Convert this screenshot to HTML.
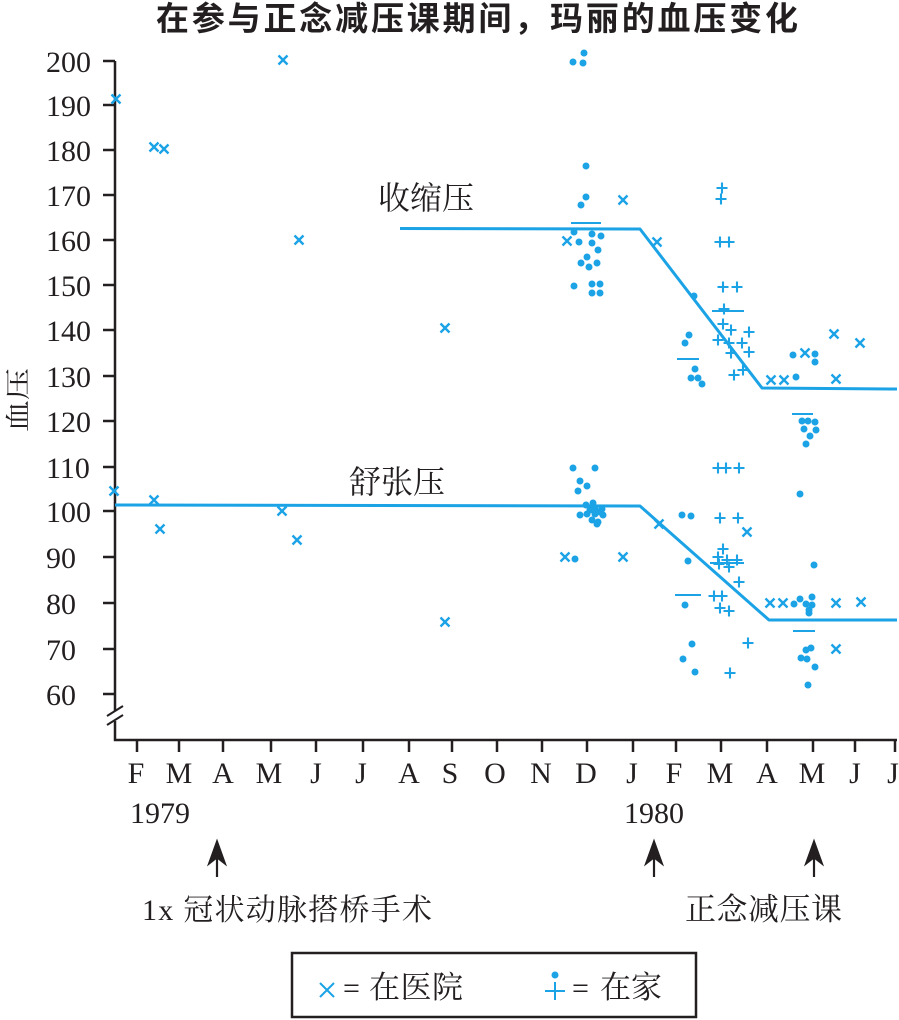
<!DOCTYPE html>
<html><head><meta charset="utf-8"><style>
html,body{margin:0;padding:0;background:#fff;}
svg{display:block;}
</style></head><body>
<svg width="899" height="1020" viewBox="0 0 899 1020" xmlns="http://www.w3.org/2000/svg">
<defs>
<g id="xm"><path d="M-4.5,-4.5L4.5,4.5M-4.5,4.5L4.5,-4.5" stroke="#1ba3e6" stroke-width="2.4" fill="none"/></g>
<g id="pm"><path d="M-5.5,0H5.5M0,-5.5V5.5" stroke="#1ba3e6" stroke-width="2.1" fill="none"/></g>
<g id="dm"><circle r="3.5" fill="#1ba3e6"/></g>
</defs>
<rect width="899" height="1020" fill="#fff"/>

<!-- title -->
<text x="156" y="30" font-family="'Noto Sans CJK SC','WenQuanYi Zen Hei',sans-serif" font-weight="bold" font-size="33" fill="#231f20" textLength="642" lengthAdjust="spacing">在参与正念减压课期间，玛丽的血压变化</text>

<!-- y axis label -->
<text transform="translate(27,400) rotate(-90) scale(1,0.8)" text-anchor="middle" font-family="'Liberation Serif','Noto Serif CJK SC',serif" font-size="32" fill="#231f20">血压</text>

<!-- axes -->
<g stroke="#231f20" stroke-width="2.5" fill="none">
<path d="M115,61V711M115,721V740H897"/>
<path d="M107,716L123,706M107,725L123,715" stroke-width="2"/>
<path d="M103,61H115M103,105H115M103,150H115M103,195H115M103,240H115M103,285H115M103,330H115M103,376H115M103,421H115M103,467H115M103,511H115M103,557H115M103,603H115M103,649H115M103,694H115"/>
<path d="M137,740V752M179,740V752M223,740V752M271,740V752M316,740V752M363,740V752M409,740V752M452,740V752M497,740V752M542,740V752M587,740V752M633,740V752M676,740V752M721,740V752M767,740V752M813,740V752M855,740V752M895,740V752"/>
</g>

<!-- y tick labels -->
<g font-family="'Liberation Serif',serif" font-size="30" fill="#231f20">
<text x="46" y="72">200</text>
<text x="46" y="116">190</text>
<text x="46" y="161">180</text>
<text x="46" y="206">170</text>
<text x="46" y="251">160</text>
<text x="46" y="296">150</text>
<text x="46" y="341">140</text>
<text x="46" y="387">130</text>
<text x="46" y="432">120</text>
<text x="46" y="478">110</text>
<text x="46" y="522">100</text>
<text x="46" y="568">90</text>
<text x="46" y="614">80</text>
<text x="46" y="660">70</text>
<text x="46" y="705">60</text>
</g>

<!-- month labels -->
<g font-family="'Liberation Serif',serif" font-size="30" fill="#231f20" text-anchor="middle">
<text x="136" y="783">F</text>
<text x="179" y="783">M</text>
<text x="223" y="783">A</text>
<text x="269" y="783">M</text>
<text x="316" y="783">J</text>
<text x="361" y="783">J</text>
<text x="409" y="783">A</text>
<text x="450" y="783">S</text>
<text x="495" y="783">O</text>
<text x="541" y="783">N</text>
<text x="586" y="783">D</text>
<text x="632" y="783">J</text>
<text x="674" y="783">F</text>
<text x="720" y="783">M</text>
<text x="767" y="783">A</text>
<text x="812" y="783">M</text>
<text x="855" y="783">J</text>
<text x="893" y="783">J</text>
<text x="160" y="823">1979</text>
<text x="654" y="823">1980</text>
</g>

<!-- arrows -->
<g fill="#231f20" stroke="#231f20">
<path d="M217,840L208,865L217,858L226,865Z" stroke-width="1"/>
<path d="M217,858V877" stroke-width="2.2"/>
<path d="M654,840L645,865L654,858L663,865Z" stroke-width="1"/>
<path d="M654,858V877" stroke-width="2.2"/>
<path d="M814,840L805,865L814,858L823,865Z" stroke-width="1"/>
<path d="M814,858V877" stroke-width="2.2"/>
</g>
<text x="142" y="920" font-family="'Liberation Serif','Noto Serif CJK SC',serif" font-size="30" fill="#231f20" textLength="290" lengthAdjust="spacing">1x 冠状动脉搭桥手术</text>
<text x="685" y="920" font-family="'Liberation Serif','Noto Serif CJK SC',serif" font-size="31" fill="#231f20" textLength="157" lengthAdjust="spacing">正念减压课</text>

<!-- trend lines -->
<g stroke="#1ba3e6" stroke-width="3" fill="none" stroke-linejoin="round">
<path d="M400,228.5L640,229L762,388L897,389"/>
<path d="M115,505L640,506L769,620L897,620"/>
</g>
<text x="378" y="209" font-family="'Liberation Serif','Noto Serif CJK SC',serif" font-size="32" fill="#231f20">收缩压</text>
<text x="349" y="493" font-family="'Liberation Serif','Noto Serif CJK SC',serif" font-size="32" fill="#231f20">舒张压</text>

<!-- mean dashes -->
<g stroke="#1ba3e6" stroke-width="2" fill="none">
<path d="M571,223H601M712,311H744M677,359H699M792,414H813M710,563H744M675,595H701M793,631H815"/>
</g>

<!-- hospital x marks -->
<use href="#xm" x="116" y="99"/><use href="#xm" x="154" y="147"/><use href="#xm" x="164" y="149"/>
<use href="#xm" x="283" y="60"/><use href="#xm" x="299" y="240"/><use href="#xm" x="445" y="328"/>
<use href="#xm" x="114" y="491"/><use href="#xm" x="154" y="500"/><use href="#xm" x="160" y="529"/>
<use href="#xm" x="282" y="511"/><use href="#xm" x="297" y="540"/><use href="#xm" x="445" y="622"/>
<use href="#xm" x="567" y="241"/><use href="#xm" x="623" y="200"/><use href="#xm" x="657" y="242"/>
<use href="#xm" x="771" y="380"/><use href="#xm" x="784" y="380"/><use href="#xm" x="805" y="353"/>
<use href="#xm" x="834" y="334"/><use href="#xm" x="860" y="343"/><use href="#xm" x="836" y="379"/>
<use href="#xm" x="565" y="557"/><use href="#xm" x="623" y="557"/><use href="#xm" x="659" y="524"/>
<use href="#xm" x="747" y="532"/><use href="#xm" x="770" y="603"/><use href="#xm" x="783" y="603"/>
<use href="#xm" x="836" y="603"/><use href="#xm" x="861" y="602"/><use href="#xm" x="836" y="649"/>

<!-- home dots -->
<use href="#dm" x="573" y="62"/><use href="#dm" x="583" y="63"/><use href="#dm" x="584" y="53"/>
<use href="#dm" x="586" y="166"/><use href="#dm" x="586" y="197"/><use href="#dm" x="581" y="205"/>
<use href="#dm" x="574" y="232"/><use href="#dm" x="592" y="234"/><use href="#dm" x="601" y="236"/>
<use href="#dm" x="579" y="242"/><use href="#dm" x="592" y="243"/><use href="#dm" x="598" y="250"/>
<use href="#dm" x="587" y="257"/><use href="#dm" x="581" y="263"/><use href="#dm" x="589" y="267"/>
<use href="#dm" x="597" y="263"/><use href="#dm" x="574" y="286"/><use href="#dm" x="592" y="284"/>
<use href="#dm" x="600" y="284"/><use href="#dm" x="592" y="293"/><use href="#dm" x="600" y="293"/>
<use href="#dm" x="694" y="296"/><use href="#dm" x="689" y="335"/><use href="#dm" x="685" y="343"/>
<use href="#dm" x="695" y="369"/><use href="#dm" x="691" y="378"/><use href="#dm" x="698" y="378"/><use href="#dm" x="702" y="384"/>
<use href="#dm" x="796" y="377"/><use href="#dm" x="793" y="355"/><use href="#dm" x="815" y="354"/><use href="#dm" x="815" y="362"/>
<use href="#dm" x="802" y="421"/><use href="#dm" x="808" y="421"/><use href="#dm" x="815" y="422"/>
<use href="#dm" x="804" y="429"/><use href="#dm" x="816" y="430"/><use href="#dm" x="810" y="436"/><use href="#dm" x="806" y="444"/>
<use href="#dm" x="573" y="468"/><use href="#dm" x="595" y="468"/><use href="#dm" x="580" y="481"/>
<use href="#dm" x="587" y="486"/><use href="#dm" x="578" y="491"/><use href="#dm" x="586" y="505"/>
<use href="#dm" x="593" y="503"/><use href="#dm" x="595" y="508"/><use href="#dm" x="602" y="509"/>
<use href="#dm" x="580" y="515"/><use href="#dm" x="587" y="514"/><use href="#dm" x="595" y="514"/>
<use href="#dm" x="603" y="515"/><use href="#dm" x="592" y="520"/><use href="#dm" x="598" y="522"/>
<use href="#dm" x="597" y="524"/><use href="#dm" x="590" y="510"/><use href="#dm" x="600" y="512"/>
<use href="#dm" x="575" y="559"/>
<use href="#dm" x="682" y="515"/><use href="#dm" x="691" y="516"/><use href="#dm" x="688" y="561"/>
<use href="#dm" x="685" y="605"/><use href="#dm" x="692" y="644"/><use href="#dm" x="683" y="659"/><use href="#dm" x="695" y="672"/>
<use href="#dm" x="800" y="494"/><use href="#dm" x="814" y="565"/><use href="#dm" x="794" y="604"/>
<use href="#dm" x="800" y="599"/><use href="#dm" x="806" y="604"/><use href="#dm" x="812" y="597"/>
<use href="#dm" x="812" y="605"/><use href="#dm" x="809" y="610"/><use href="#dm" x="809" y="613"/>
<use href="#dm" x="806" y="650"/><use href="#dm" x="811" y="648"/><use href="#dm" x="801" y="658"/>
<use href="#dm" x="807" y="659"/><use href="#dm" x="815" y="667"/><use href="#dm" x="808" y="685"/>

<!-- home pluses -->
<use href="#pm" x="722" y="188"/><use href="#pm" x="721" y="199"/><use href="#pm" x="720" y="242"/>
<use href="#pm" x="729" y="242"/><use href="#pm" x="723" y="287"/><use href="#pm" x="737" y="287"/>
<use href="#pm" x="724" y="309"/><use href="#pm" x="723" y="324"/><use href="#pm" x="731" y="330"/>
<use href="#pm" x="749" y="332"/><use href="#pm" x="718" y="340"/><use href="#pm" x="729" y="343"/>
<use href="#pm" x="742" y="343"/><use href="#pm" x="731" y="353"/><use href="#pm" x="749" y="352"/>
<use href="#pm" x="734" y="375"/><use href="#pm" x="743" y="370"/>
<use href="#pm" x="718" y="468"/><use href="#pm" x="726" y="468"/><use href="#pm" x="739" y="468"/>
<use href="#pm" x="720" y="518"/><use href="#pm" x="738" y="518"/><use href="#pm" x="723" y="549"/>
<use href="#pm" x="718" y="557"/><use href="#pm" x="727" y="560"/><use href="#pm" x="737" y="560"/>
<use href="#pm" x="719" y="564"/><use href="#pm" x="729" y="567"/><use href="#pm" x="739" y="582"/>
<use href="#pm" x="714" y="596"/><use href="#pm" x="722" y="596"/><use href="#pm" x="720" y="608"/>
<use href="#pm" x="729" y="611"/><use href="#pm" x="748" y="643"/><use href="#pm" x="730" y="673"/>

<!-- legend -->
<rect x="292" y="953" width="404" height="64" fill="none" stroke="#231f20" stroke-width="2.5"/>
<path d="M320,983L334,997M320,997L334,983" stroke="#1ba3e6" stroke-width="2" fill="none"/>
<text x="343" y="998" font-family="'Liberation Serif',serif" font-size="30" fill="#231f20">=</text>
<text x="369" y="998" font-family="'Liberation Serif','Noto Serif CJK SC',serif" font-size="31" fill="#231f20" textLength="94" lengthAdjust="spacing">在医院</text>
<circle cx="555" cy="975" r="3.5" fill="#1ba3e6"/>
<path d="M545,991H565M555,982V1000" stroke="#1ba3e6" stroke-width="2" fill="none"/>
<text x="572" y="998" font-family="'Liberation Serif',serif" font-size="30" fill="#231f20">=</text>
<text x="600" y="998" font-family="'Liberation Serif','Noto Serif CJK SC',serif" font-size="31" fill="#231f20" textLength="62" lengthAdjust="spacing">在家</text>
</svg>
</body></html>
